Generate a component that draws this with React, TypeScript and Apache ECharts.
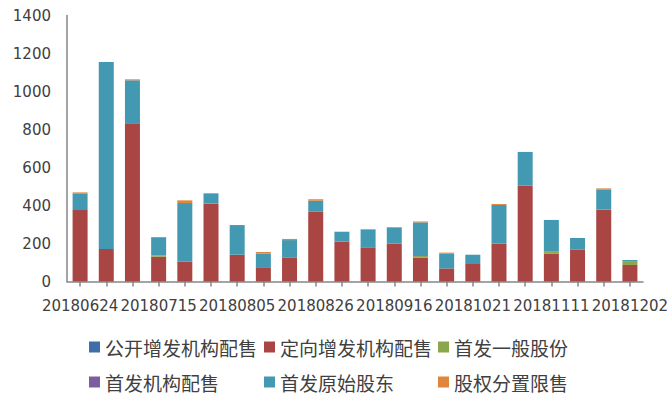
import React, { useEffect, useRef } from "react";
import * as echarts from "echarts";

const categories = [
  "20180624", "20180701", "20180708", "20180715", "20180722", "20180729",
  "20180805", "20180812", "20180819", "20180826", "20180902", "20180909",
  "20180916", "20180930", "20181014", "20181021", "20181028", "20181104",
  "20181111", "20181118", "20181125", "20181202",
];

const seriesNames = [
  "公开增发机构配售",
  "定向增发机构配售",
  "首发一般股份",
  "首发机构配售",
  "首发原始股东",
  "股权分置限售",
];

const publicPlacement = [0, 0, 0, 0, 0, 0, 0, 0, 0, 0, 0, 0, 0, 0, 0, 0, 0, 0, 0, 0, 0, 0];
const privatePlacement = [376, 171, 833, 131, 104, 411, 141, 75, 127, 367, 210, 180, 199, 125, 69, 92, 199, 504, 146, 167, 378, 87];
const ipoGeneral = [0, 0, 0, 7, 0, 0, 0, 0, 0, 0, 0, 0, 0, 9, 0, 0, 0, 0, 11, 0, 0, 17];
const ipoInstitution = [0, 0, 0, 0, 0, 0, 0, 0, 0, 0, 0, 0, 0, 0, 0, 0, 0, 0, 0, 0, 0, 0];
const ipoOriginal = [88, 984, 226, 91, 309, 53, 156, 73, 91, 58, 52, 93, 84, 177, 77, 49, 204, 178, 167, 62, 107, 9];
const splitShare = [5, 0, 5, 5, 14, 0, 0, 7, 6, 8, 0, 3, 4, 5, 6, 0, 5, 0, 0, 0, 5, 0];

const seriesData = [publicPlacement, privatePlacement, ipoGeneral, ipoInstitution, ipoOriginal, splitShare];
const colors = ["#3F6EAA", "#A94644", "#8BA64B", "#7A5E9E", "#4399B1", "#E0853C"];

const yTicks = { min: 0, max: 1400, interval: 200 };

export default function App() {
  const ref = useRef<HTMLDivElement>(null);

  useEffect(() => {
    if (!ref.current) return;
    const chart = echarts.init(ref.current, null, { renderer: "svg" });
    const legendPos = [
      { left: 84, top: 332 },
      { left: 259, top: 332 },
      { left: 433, top: 332 },
      { left: 84, top: 367 },
      { left: 259, top: 367 },
      { left: 433, top: 367 },
    ];
    const option: any = {
      animation: false,
      backgroundColor: "#ffffff",
      color: colors,
      grid: { left: 67, right: 29, top: 15.5, bottom: 117.5, containLabel: false },
      legend: seriesNames.map((n, i) => ({
        data: [n],
        left: legendPos[i].left,
        top: legendPos[i].top,
        icon: "rect",
        itemWidth: 11,
        itemHeight: 11,
        itemGap: 0,
        padding: 5,
        selectedMode: false,
        textStyle: {
          fontFamily: "Noto Sans CJK SC",
          fontSize: 19,
          lineHeight: 20,
          color: "#404040",
          padding: [0, 0, 0, 0],
        },
      })),
      xAxis: {
        type: "category",
        data: categories,
        boundaryGap: true,
        axisLine: { show: true, lineStyle: { color: "#868686", width: 1.5 } },
        axisTick: {
          show: true,
          alignWithLabel: true,
          interval: 0,
          length: 5,
          lineStyle: { color: "#868686", width: 1.5 },
        },
        axisLabel: {
          interval: 2,
          margin: 17,
          fontFamily: "DejaVu Sans",
          fontSize: 15,
          color: "#404040",
          hideOverlap: false,
          showMinLabel: true,
          showMaxLabel: true,
        },
        splitLine: { show: false },
      },
      yAxis: {
        type: "value",
        min: yTicks.min,
        max: yTicks.max,
        interval: yTicks.interval,
        axisLine: { show: true, lineStyle: { color: "#868686", width: 1.5 } },
        axisTick: { show: false },
        axisLabel: {
          margin: 16,
          fontFamily: "DejaVu Sans",
          fontSize: 15,
          color: "#404040",
          formatter: (v: number) => String(v),
        },
        splitLine: { show: false },
      },
      series: seriesNames.map((n, i) => ({
        name: n,
        type: "bar",
        stack: "total",
        barWidth: 15,
        data: seriesData[i],
        itemStyle: { color: colors[i] },
      })),
    };
    chart.setOption(option);
    return () => chart.dispose();
  }, []);

  return (
    <div
      ref={ref}
      style={{ position: "fixed", left: 0, top: 0, width: 672, height: 399 }}
    />
  );
}
